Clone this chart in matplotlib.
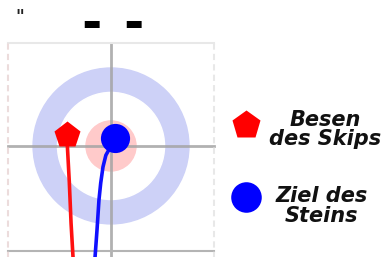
import matplotlib
matplotlib.use('Agg')
import matplotlib.pyplot as plt
from matplotlib.patches import Circle

# Koordinaten in Hauslinien-Einheiten (Mitte des Hauses = 0, 0)
grid_pos = [-1.0, 0.0, 1.0]
ring_radii = [0.757, 0.52, 0.243]
ring_colors = ['#cdd1f7', '#ffffff', '#ffcaca']

skip_broom = (-0.427, 0.107)
stone_target = (0.04, 0.078)

red_x = [-0.427, -0.405, -0.388, -0.369]
red_y = [0.058, -0.35, -0.75, -1.078]
blue_x = [0.0, -0.05, -0.078, -0.10, -0.117, -0.136, -0.155]
blue_y = [0.0, -0.09, -0.204, -0.36, -0.524, -0.816, -1.078]

dash_x = [-0.19, 0.215]
dash_y = [1.19, 1.19]

legend_labels = ['Besen\ndes Skips', 'Ziel des\nSteins']
legend_marker_pos = [(1.31, 0.20), (1.31, -0.495)]
legend_text_pos = [(2.078, 0.16), (2.044, -0.58)]

fig = plt.figure(figsize=(3.87, 2.57), dpi=100)
ax = fig.add_axes([0, 0, 1, 1])
ax.set_xlim(-1.078, 2.68)
ax.set_ylim(-1.078, 1.417)
ax.set_aspect('equal')
ax.axis('off')

# Haus
for r, c in zip(ring_radii, ring_colors):
    ax.add_patch(Circle((0, 0), r, color=c, zorder=1))

# Linien
ax.plot([-1.0, 1.0], [0, 0], color='#a4a4a4', lw=2.0, alpha=0.85, zorder=2)
ax.plot([0, 0], [-1.1, 1.0], color='#a4a4a4', lw=2.0, alpha=0.85, zorder=2)
ax.plot([-1.0, 1.0], [1.0, 1.0], color='#e8e8e8', lw=1.5, zorder=2)
ax.plot([-1.0, 1.0], [-1.02, -1.02], color='#b4b4b4', lw=1.5, zorder=2)
ax.plot([-1.0, -1.0], [-1.1, 1.0], color='#ecdcdc', lw=1.5, ls=(0, (3, 2)), zorder=2)
ax.plot([1.0, 1.0], [-1.1, 1.0], color='#e8e8e8', lw=1.5, ls=(0, (3, 2)), zorder=2)

# Laufwege
ax.plot(red_x, red_y, color='#ff1010', lw=2.6, zorder=3)
ax.plot(blue_x, blue_y, color='#1010ff', lw=2.6, zorder=3)

ax.plot(*skip_broom, marker='p', ms=20, color='#ff0000', mec='none', zorder=4)
ax.plot(*stone_target, marker='o', ms=21, color='#0000ff', mec='none', zorder=4)

# Legende
ax.plot(*legend_marker_pos[0], marker='p', ms=21, color='#ff0000', mec='none')
ax.plot(*legend_marker_pos[1], marker='o', ms=22, color='#0000ff', mec='none')
for (tx, ty), lab in zip(legend_text_pos, legend_labels):
    ax.text(tx, ty, lab, ha='center', va='center', fontsize=15,
            fontweight='bold', fontstyle='italic', color='#111111',
            linespacing=0.98, family='DejaVu Sans')

# obere Markierungen
for dx, dy in zip(dash_x, dash_y):
    ax.text(dx, dy, '\u25ac', ha='center', va='center', fontsize=14,
            color='black', family='DejaVu Sans')
ax.text(-0.93, 1.25, '"', ha='left', va='center', fontsize=12,
        fontweight='bold', color='#222222')

fig.savefig('out.png', dpi=100)
